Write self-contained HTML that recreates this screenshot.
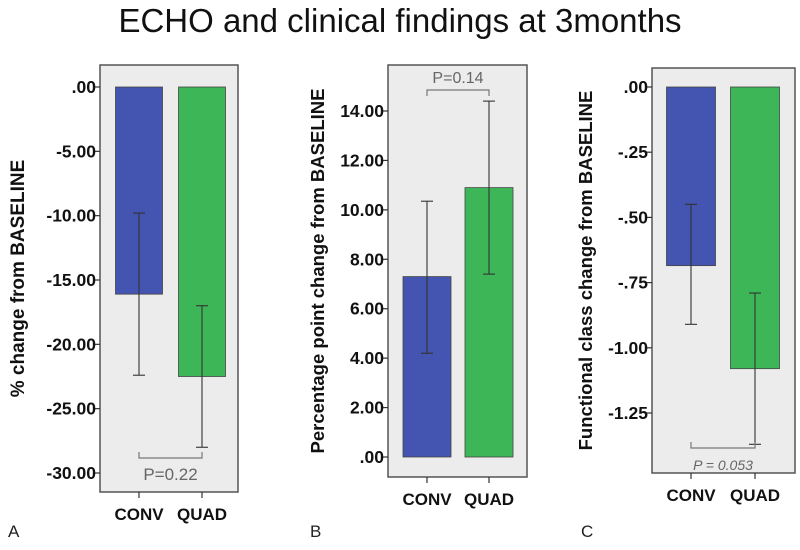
<!DOCTYPE html>
<html><head><meta charset="utf-8"><style>
body{margin:0;background:#fff;width:800px;height:545px;overflow:hidden;font-family:"Liberation Sans",sans-serif}
</style></head><body>
<svg id="s" width="800" height="545" xmlns="http://www.w3.org/2000/svg">
<text x="400" y="32" text-anchor="middle" font-size="33" fill="#111">ECHO and clinical findings at 3months</text>
</svg>
<script>
const categories=["CONV","QUAD"];
const aValues=[-16.1,-22.5], aLow=[-22.4,-28.0], aHigh=[-9.8,-17.0];
const aTicks=[0,-5,-10,-15,-20,-25,-30], aTickLabels=[".00","-5.00","-10.00","-15.00","-20.00","-25.00","-30.00"];
const bValues=[7.3,10.9], bLow=[4.2,7.4], bHigh=[10.35,14.4];
const bTicks=[0,2,4,6,8,10,12,14], bTickLabels=[".00","2.00","4.00","6.00","8.00","10.00","12.00","14.00"];
const cValues=[-0.685,-1.08], cLow=[-0.91,-1.37], cHigh=[-0.45,-0.79];
const cTicks=[0,-0.25,-0.5,-0.75,-1,-1.25], cTickLabels=[".00","-.25","-.50","-.75","-1.00","-1.25"];
const pTexts=["P=0.22","P=0.14","P = 0.053"];
const colors=["#4355b0","#3db657"];
const NS="http://www.w3.org/2000/svg", svg=document.getElementById('s');
function mk(t,a,p){const e=document.createElementNS(NS,t);for(const k in a)e.setAttribute(k,a[k]);(p||svg).appendChild(e);return e;}
function panel(cfg){
  const g=mk('g',{});
  
  
  const y=v=>cfg.y0+(v-cfg.v0)*(cfg.y1-cfg.y0)/(cfg.v1-cfg.v0);
  const box=mk('rect',{x:cfg.bx0,y:cfg.by0,width:cfg.bx1-cfg.bx0,height:cfg.by1-cfg.by0,fill:'#ececec',stroke:'#555','stroke-width':1.5},g);
  
  cfg.ticks.forEach((t,i)=>{
    mk('line',{x1:cfg.bx0-5,x2:cfg.bx0,y1:y(t),y2:y(t),stroke:'#333','stroke-width':1.2},g);
    const tx=mk('text',{x:cfg.bx0-4,y:y(t)+6,'text-anchor':'end','font-size':17.5,'font-weight':'bold',fill:'#111'},g);
    tx.textContent=cfg.labels[i];
    
  });
  const base=y(0);
  categories.forEach((c,i)=>{
    const cx=cfg.cx[i],w=cfg.bw;
    const v=cfg.values[i];
    const r=mk('rect',{x:cx-w/2,y:Math.min(base,y(v)),width:w,height:Math.abs(y(v)-base),fill:colors[i],stroke:'#444','stroke-width':0.8},g);
    
    const eg=mk('g',{stroke:'#333','stroke-width':1.1},g);
    
    mk('line',{x1:cx,x2:cx,y1:y(cfg.low[i]),y2:y(cfg.high[i])},eg);
    mk('line',{x1:cx-6,x2:cx+6,y1:y(cfg.low[i]),y2:y(cfg.low[i])},eg);
    mk('line',{x1:cx-6,x2:cx+6,y1:y(cfg.high[i]),y2:y(cfg.high[i])},eg);
    mk('line',{x1:cx,x2:cx,y1:cfg.by1,y2:cfg.by1+6,stroke:'#333','stroke-width':1.2},g);
    const t=mk('text',{x:cx,y:cfg.by1+28,'text-anchor':'middle','font-size':17,'font-weight':'bold',fill:'#111'},g);
    t.textContent=c;
  });
  const d=cfg.brDir;
  mk('path',{d:`M${cfg.cx[0]},${cfg.brY+d*6}V${cfg.brY}H${cfg.cx[1]}V${cfg.brY+d*6}`,fill:'none',stroke:'#777','stroke-width':1.2},g);
  const p=mk('text',{x:(cfg.cx[0]+cfg.cx[1])/2,y:cfg.pY,'text-anchor':'middle','font-size':cfg.pSize,fill:'#666','font-style':cfg.italic?'italic':'normal'},g);
  p.textContent=cfg.p;
  const ay=(cfg.by0+cfg.by1)/2;
  const at=mk('text',{x:cfg.axX,y:ay,'text-anchor':'middle','font-size':cfg.axSize,'font-weight':'bold',fill:'#111',transform:`rotate(-90 ${cfg.axX} ${ay})`},g);
  at.textContent=cfg.axis;
  const L=mk('text',{x:cfg.lx,y:537,'font-size':17,fill:'#222'},g);
  L.textContent=cfg.id.toUpperCase();
}
panel({id:'a',bx0:100,bx1:238,by0:65,by1:492,v0:0,v1:-30,y0:87,y1:473,ticks:aTicks,labels:aTickLabels,
  values:aValues,low:aLow,high:aHigh,cx:[139,202],bw:47,brY:458,brDir:-1,pY:480,pSize:17,p:pTexts[0],
  axis:'% change from BASELINE',axX:24,axSize:19,lx:8});
panel({id:'b',bx0:388,bx1:527,by0:65,by1:477,v0:0,v1:14,y0:457,y1:111,ticks:bTicks,labels:bTickLabels,
  values:bValues,low:bLow,high:bHigh,cx:[427,489],bw:48,brY:90,brDir:1,pY:83,pSize:16,p:pTexts[1],
  axis:'Percentage point change from BASELINE',axX:324,axSize:18.5,lx:310});
panel({id:'c',bx0:652,bx1:795,by0:68,by1:473,v0:0,v1:-1.25,y0:87,y1:413,ticks:cTicks,labels:cTickLabels,
  values:cValues,low:cLow,high:cHigh,cx:[691,755],bw:49,brY:448,brDir:-1,pY:470,pSize:14,italic:true,p:pTexts[2],
  axis:'Functional class change from BASELINE',axX:592,axSize:18.5,lx:581});
</script>
</body></html>
